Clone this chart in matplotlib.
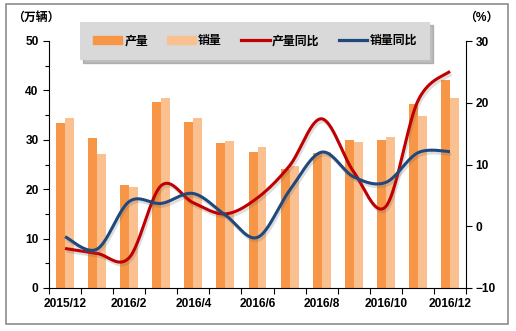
import numpy as np
import matplotlib.pyplot as plt
import matplotlib.patheffects as pe
from matplotlib.patches import Patch, Rectangle
from matplotlib.lines import Line2D

plt.rcParams['font.family'] = ['Liberation Sans', 'Noto Sans CJK SC']
plt.rcParams['font.weight'] = 'bold'

# monthly output / sales (万辆) and year-on-year growth (%)
months = ['2015/12', '2016/1', '2016/2', '2016/3', '2016/4', '2016/5', '2016/6',
          '2016/7', '2016/8', '2016/9', '2016/10', '2016/11', '2016/12']
output = [33.5, 30.4, 20.9, 37.7, 33.6, 29.4, 27.6, 24.1, 27.3, 30.0, 30.0, 37.2, 42.1]
sales = [34.5, 27.2, 20.4, 38.5, 34.5, 29.8, 28.5, 24.7, 27.6, 29.5, 30.6, 34.9, 38.5]
output_yoy = [-3.6, -4.4, -5.1, 6.6, 3.8, 2.0, 4.6, 9.8, 17.4, 8.8, 3.2, 20.3, 25.1]
sales_yoy = [-1.7, -3.7, 4.0, 3.7, 5.3, 1.8, -1.8, 5.8, 12.0, 8.0, 7.1, 11.9, 12.1]

tick_labels = [m if i % 2 == 0 else '' for i, m in enumerate(months)]

FS = 8.6


def smooth(xs, ys, n=40):
    """Catmull-Rom style Bezier smoothing, like a spreadsheet 'smoothed line'."""
    p = np.column_stack([xs, ys]).astype(float)
    p = np.vstack([p[0], p, p[-1]])
    t = np.linspace(0, 1, n)[:, None]
    out = []
    for i in range(1, len(p) - 2):
        p0, p1, p2, p3 = p[i - 1], p[i], p[i + 1], p[i + 2]
        b1 = p1 + (p2 - p0) / 6
        b2 = p2 - (p3 - p1) / 6
        seg = ((1 - t) ** 3) * p1 + 3 * ((1 - t) ** 2) * t * b1 \
            + 3 * (1 - t) * t ** 2 * b2 + t ** 3 * p2
        out.append(seg if i == 1 else seg[1:])
    out = np.vstack(out)
    return out[:, 0], out[:, 1]


fig = plt.figure(figsize=(5.16, 3.31), dpi=100)
ax = fig.add_axes([49 / 516, 1 - 288 / 331, 417 / 516, 247 / 331])
ax2 = ax.twinx()

x = np.arange(len(months))
w = 0.28
c_out, c_sales = '#F79646', '#FAC090'
c_red, c_blue = '#C00000', '#1F497D'

ax.bar(x - w / 2, output, w, color=c_out, linewidth=0)
ax.bar(x + w / 2, sales, w, color=c_sales, linewidth=0)

shadow = [pe.SimpleLineShadow(offset=(1.0, -2.0), shadow_color='#666666', alpha=0.22),
          pe.Normal()]
for vals, col in [(output_yoy, c_red), (sales_yoy, c_blue)]:
    sx, sy = smooth(x, vals)
    ax2.plot(sx, sy, color=col, lw=2.2, solid_capstyle='butt', path_effects=shadow)

ax.set_xlim(-0.5, len(months) - 0.5)
ax.set_ylim(0, 50)
ax2.set_ylim(-10, 30)

ax.set_yticks(np.arange(0, 51, 10))
ax.set_yticks(np.arange(5, 50, 10), minor=True)
ax2.set_yticks(np.arange(-10, 31, 10))

ax.set_xticks(np.arange(-0.5, len(months), 1))
ax.set_xticklabels([])
ax.set_xticks(x, minor=True)
ax.set_xticklabels(tick_labels, minor=True)

ax.tick_params(axis='x', which='major', direction='out', length=4, width=0.8)
ax.tick_params(axis='x', which='minor', length=0, pad=7, labelsize=FS)
ax.tick_params(axis='y', which='major', direction='out', length=4, width=0.8,
               pad=3.5, labelsize=FS)
ax.tick_params(axis='y', which='minor', direction='out', length=3, width=0.8)
ax2.tick_params(axis='y', direction='out', length=4, width=0.8, pad=3, labelsize=FS)

for a in (ax, ax2):
    a.spines['top'].set_visible(False)
    for s in a.spines.values():
        s.set_linewidth(0.8)
        s.set_color('black')
ax.spines['right'].set_visible(False)
ax2.spines['left'].set_visible(False)
ax2.spines['bottom'].set_visible(False)

fig.text(12 / 516, 1 - 18 / 331, '（万辆）', fontsize=FS, va='center', ha='left')
fig.text(481 / 516, 1 - 18 / 331, '（%）', fontsize=FS, va='center', ha='center')

handles = [Patch(color=c_out), Patch(color=c_sales),
           Line2D([], [], color=c_red, lw=2.3), Line2D([], [], color=c_blue, lw=2.3)]
names = ['产量', '销量', '产量同比', '销量同比']
leg = fig.legend(handles, names, loc='upper left', bbox_to_anchor=(80 / 516, 1 - 22 / 331),
                 ncol=4, fontsize=FS, frameon=True, fancybox=False,
                 handlelength=2.4, handleheight=0.6, handletextpad=0.2,
                 columnspacing=1.6, borderpad=1.1, borderaxespad=0,
                 shadow={'color': '#7f7f7f', 'alpha': 0.5})
leg.get_frame().set_facecolor('#D9D9D9')
leg.get_frame().set_edgecolor('none')
leg.get_frame().set_alpha(1)

fig.patches.append(Rectangle((6 / 516, 1 - 324 / 331), 502 / 516, 320 / 331,
                             transform=fig.transFigure, fill=False,
                             edgecolor='#8c8c8c', linewidth=1.2))

fig.savefig('out.png', dpi=100)
